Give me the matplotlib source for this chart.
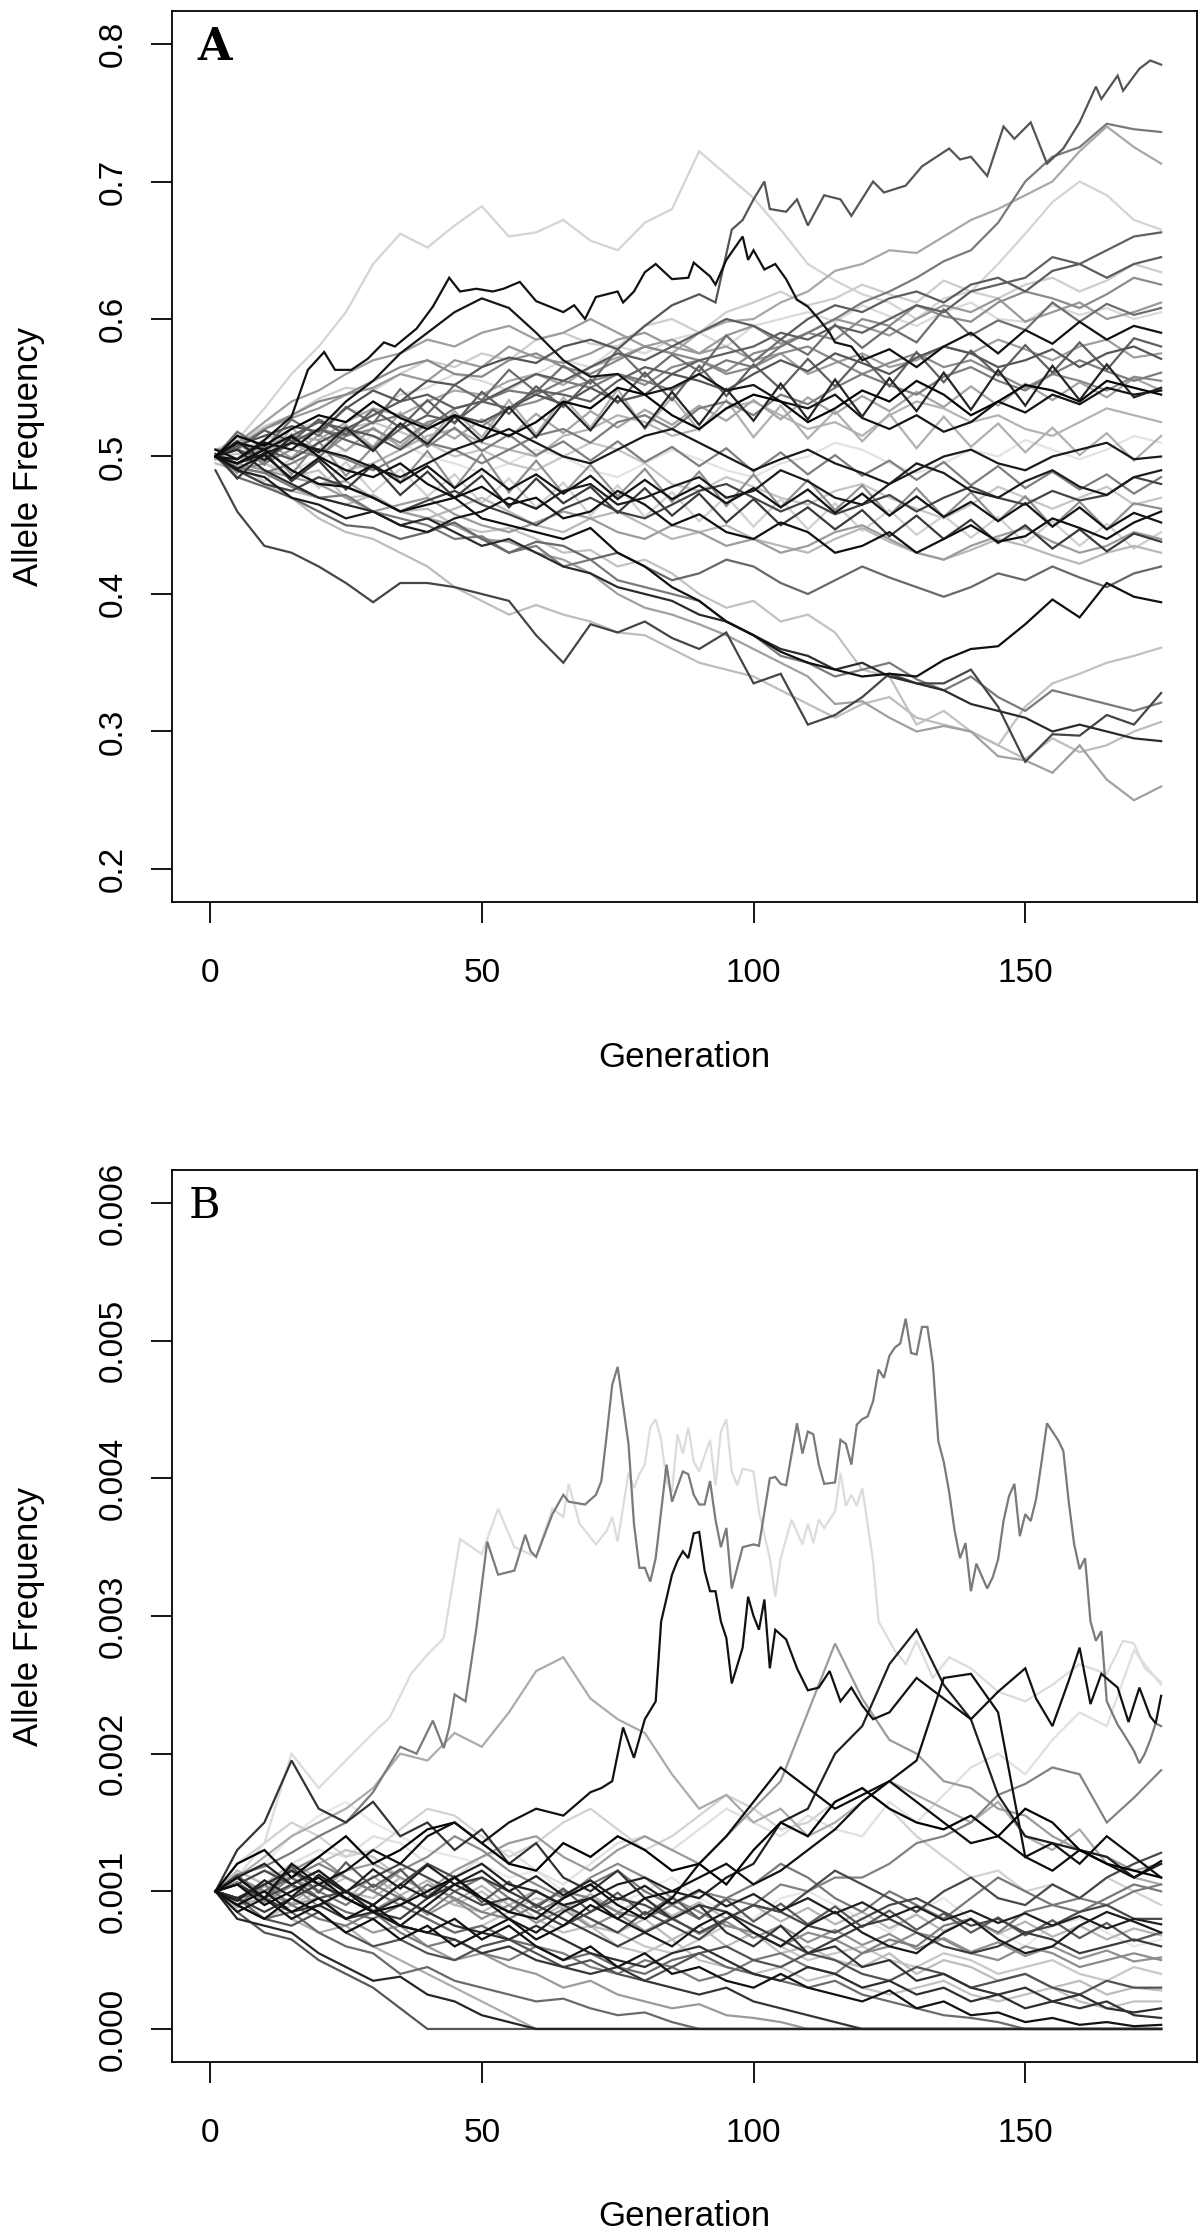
import matplotlib
matplotlib.use("Agg")
import matplotlib.pyplot as plt
import numpy as np

# ---------------- shared generation grid ----------------
GEN = [1, 5, 10, 15, 20, 25, 30, 35, 40, 45, 50, 55, 60, 65, 70, 75, 80, 85,
       90, 95, 100, 105, 110, 115, 120, 125, 130, 135, 140, 145, 150, 155,
       160, 165, 170, 175]

X_TICKS = [0, 50, 100, 150]
A_YTICKS = [0.2, 0.3, 0.4, 0.5, 0.6, 0.7, 0.8]
A_YLABELS = ["0.2", "0.3", "0.4", "0.5", "0.6", "0.7", "0.8"]
B_YTICKS = [0.000, 0.001, 0.002, 0.003, 0.004, 0.005, 0.006]
B_YLABELS = ["0.000", "0.001", "0.002", "0.003", "0.004", "0.005", "0.006"]

# ---------------- Panel A (allele frequency x 1000) ----------------
A01_GEN = [1, 5, 10, 15, 20, 25, 30, 35, 40, 45, 50, 55, 60, 65, 70, 75, 80, 85, 90, 93,
           96, 98, 100, 102, 103, 106, 108, 110, 113, 116, 118, 122, 124, 128, 131, 136,
           138, 140, 143, 146, 148, 151, 154, 157, 160, 163, 164, 167, 168, 171, 173, 175]
A01 = [500, 508, 515, 522, 518, 535, 548, 540, 555, 552, 565, 572, 568, 580, 585, 578, 595, 610, 618, 612,
       665, 672, 687, 700, 680, 678, 687, 668, 690, 687, 675, 700, 692, 697, 711, 724,
       716, 718, 704, 740, 731, 743, 713, 724, 743, 769, 760, 777, 766, 782, 788, 785]
A02 = [505, 505, 498, 510, 520, 515, 525, 530, 522, 535, 540, 548, 545, 555, 550, 560, 555, 548, 560, 570,
       565, 580, 590, 600, 612, 620, 630, 642, 650, 670, 700, 718, 725, 742, 738, 736]
A03 = [498, 498, 508, 515, 512, 525, 535, 530, 540, 548, 545, 555, 560, 552, 565, 572, 580, 575, 590, 598,
       600, 612, 620, 635, 640, 650, 648, 660, 672, 680, 690, 700, 722, 740, 725, 713]
A04 = [505, 512, 535, 560, 580, 605, 640, 662, 652, 668, 682, 660, 663, 672, 657, 650, 670, 680, 722, 705,
       688, 665, 640, 628, 618, 612, 600, 615, 620, 640, 662, 685, 700, 690, 672, 665]
A05_GEN = [1, 5, 10, 15, 18, 21, 23, 26, 29, 32, 34, 38, 41, 44, 46, 49, 52, 54, 57, 60,
           65, 67, 69, 71, 75, 76, 78, 80, 82, 85, 88, 89, 92, 93, 95, 98, 99, 100, 102, 104,
           106, 108, 110, 112, 114, 115, 118, 120, 125, 130, 135, 140, 145, 150, 155, 160,
           165, 170, 175]
A05 = [505, 498, 512, 529, 563, 576, 563, 563, 571, 583, 580, 593, 609, 630, 620, 622, 620, 622, 627, 613,
       605, 610, 600, 616, 620, 612, 620, 634, 640, 629, 630, 641, 631, 625, 643, 660, 643, 650, 636, 640,
       629, 614, 609, 600, 590, 583, 580, 570, 578, 565, 580, 590, 575, 592, 582, 598,
       585, 595, 590]
A06 = [500, 498, 510, 505, 520, 540, 555, 575, 590, 605, 615, 608, 590, 570, 558, 560, 545, 550, 560, 548,
       552, 540, 535, 545, 528, 520, 530, 518, 525, 540, 532, 545, 538, 550, 545, 548]
A07 = [490, 460, 435, 430, 420, 408, 394, 408, 408, 405, 400, 395, 370, 350, 378, 372, 380, 368, 360, 372,
       335, 342, 305, 312, 325, 342, 335, 335, 345, 318, 278, 298, 297, 312, 305, 328]
A08 = [495, 490, 480, 470, 455, 445, 440, 430, 420, 405, 395, 385, 392, 385, 380, 372, 370, 360, 350, 345,
       340, 330, 320, 310, 320, 325, 310, 305, 300, 290, 280, 295, 285, 290, 300, 307]
A09 = [500, 495, 505, 490, 480, 482, 470, 460, 455, 450, 440, 438, 430, 425, 415, 400, 390, 385, 378, 370,
       360, 350, 340, 320, 322, 310, 300, 304, 300, 282, 279, 270, 290, 265, 250, 260]
A10 = [500, 502, 495, 485, 490, 470, 472, 460, 462, 450, 445, 448, 440, 430, 432, 420, 425, 415, 400, 390,
       395, 380, 385, 372, 345, 340, 305, 315, 300, 290, 318, 335, 342, 350, 355, 361]
A11 = [500, 505, 490, 480, 470, 465, 460, 450, 455, 445, 435, 440, 430, 420, 415, 405, 400, 395, 385, 380,
       370, 360, 355, 345, 350, 340, 335, 330, 320, 315, 310, 300, 305, 300, 295, 293]
A12 = [500, 492, 488, 478, 470, 472, 460, 455, 450, 440, 442, 430, 435, 420, 425, 410, 405, 400, 395, 380,
       370, 355, 350, 340, 345, 350, 338, 330, 340, 325, 315, 330, 325, 320, 315, 321]
A13 = [500, 495, 505, 490, 480, 478, 470, 460, 465, 470, 455, 450, 445, 440, 448, 430, 420, 405, 395, 380,
       370, 358, 350, 345, 340, 342, 340, 352, 360, 362, 378, 396, 383, 408, 398, 394]
A14 = [500, 510, 505, 515, 500, 490, 485, 495, 480, 470, 478, 465, 470, 455, 460, 475, 465, 450, 458, 445,
       440, 452, 445, 430, 435, 445, 430, 440, 450, 438, 442, 455, 448, 440, 452, 460]
A15 = [500, 490, 485, 470, 465, 455, 460, 450, 445, 455, 460, 470, 462, 475, 480, 465, 470, 478, 485, 470,
       475, 490, 482, 470, 465, 480, 495, 488, 475, 470, 482, 490, 478, 472, 485, 490]
A16 = [500, 515, 508, 520, 530, 525, 540, 528, 520, 530, 522, 515, 525, 540, 535, 550, 545, 530, 520, 535,
       545, 540, 525, 535, 548, 540, 555, 545, 530, 540, 552, 548, 540, 555, 550, 545]
A17 = [500, 505, 498, 510, 520, 512, 505, 520, 530, 525, 540, 535, 548, 545, 540, 555, 565, 560, 570, 575,
       580, 590, 585, 595, 590, 600, 610, 605, 620, 625, 630, 645, 640, 650, 660, 663]
A18 = [500, 490, 495, 505, 500, 515, 520, 510, 525, 530, 522, 535, 540, 548, 555, 560, 552, 565, 570, 562,
       575, 580, 590, 585, 600, 595, 610, 602, 598, 612, 620, 615, 608, 618, 630, 625]
A19 = [500, 508, 520, 528, 535, 545, 550, 560, 555, 570, 565, 580, 572, 568, 575, 585, 590, 580, 575, 588,
       595, 582, 590, 600, 595, 588, 600, 610, 605, 615, 598, 605, 612, 600, 605, 612]
A20 = [500, 510, 522, 530, 542, 550, 548, 560, 570, 565, 575, 570, 585, 590, 582, 580, 595, 600, 590, 605,
       612, 620, 610, 615, 625, 618, 612, 628, 620, 615, 625, 630, 620, 628, 640, 634]
A21 = [500, 505, 512, 520, 525, 535, 530, 545, 550, 560, 555, 548, 560, 570, 565, 580, 575, 585, 590, 580,
       595, 600, 605, 598, 610, 602, 595, 605, 612, 600, 598, 610, 603, 608, 600, 605]
A22 = [500, 495, 505, 498, 510, 520, 515, 505, 520, 530, 525, 535, 545, 538, 550, 540, 545, 560, 555, 548,
       560, 570, 562, 575, 568, 560, 572, 580, 575, 565, 570, 578, 565, 575, 580, 571]
A23 = [500, 492, 488, 495, 505, 498, 490, 500, 510, 505, 495, 505, 515, 520, 510, 525, 530, 520, 535, 540,
       530, 545, 538, 550, 560, 552, 545, 558, 565, 555, 548, 560, 570, 562, 555, 561]
A24 = [500, 498, 505, 510, 500, 490, 495, 505, 515, 520, 510, 505, 500, 515, 520, 530, 525, 515, 520, 535,
       540, 530, 520, 525, 515, 530, 540, 535, 525, 530, 520, 515, 525, 535, 530, 525]
A25 = [500, 505, 495, 490, 498, 505, 515, 510, 500, 495, 488, 495, 505, 500, 490, 485, 495, 505, 498, 490,
       485, 495, 500, 510, 505, 495, 488, 495, 505, 500, 512, 505, 498, 505, 515, 510]
A26 = [500, 490, 480, 475, 485, 478, 470, 460, 468, 475, 465, 458, 450, 462, 470, 460, 455, 465, 475, 480,
       470, 460, 468, 458, 465, 472, 460, 470, 478, 470, 465, 475, 468, 472, 485, 480]
A27 = [500, 495, 490, 485, 480, 470, 460, 465, 470, 458, 450, 445, 452, 460, 455, 445, 440, 450, 445, 435,
       440, 430, 435, 445, 450, 440, 430, 425, 435, 442, 448, 438, 430, 435, 445, 440]
A28 = [500, 485, 478, 470, 460, 450, 448, 440, 445, 452, 440, 430, 438, 435, 425, 430, 420, 410, 415, 425,
       420, 408, 400, 410, 420, 412, 405, 398, 405, 415, 410, 420, 412, 405, 415, 420]
A29 = [500, 508, 515, 512, 505, 520, 525, 518, 510, 500, 505, 495, 490, 500, 510, 505, 495, 480, 475, 485,
       478, 470, 465, 475, 480, 470, 462, 455, 465, 478, 470, 462, 470, 478, 465, 470]
A30 = [500, 510, 505, 515, 525, 520, 530, 540, 545, 535, 540, 550, 560, 555, 565, 575, 570, 580, 590, 600,
       595, 585, 600, 610, 605, 615, 620, 612, 625, 630, 620, 635, 640, 630, 640, 645]
A31 = [500, 505, 520, 530, 540, 545, 555, 565, 570, 560, 558, 570, 575, 565, 560, 570, 580, 575, 570, 560,
       565, 575, 580, 570, 560, 568, 575, 565, 570, 560, 550, 560, 555, 548, 558, 555]
A32 = [500, 495, 502, 510, 505, 500, 492, 485, 495, 505, 512, 520, 510, 500, 495, 505, 515, 520, 510, 500,
       490, 498, 505, 495, 488, 480, 490, 500, 505, 495, 490, 500, 505, 510, 498, 500]
A33 = [500, 510, 525, 540, 548, 560, 570, 575, 585, 580, 590, 595, 585, 590, 600, 590, 580, 585, 575, 580,
       570, 575, 560, 568, 575, 565, 570, 580, 575, 585, 578, 570, 580, 585, 572, 575]
A34 = [500, 490, 480, 475, 470, 465, 472, 460, 455, 462, 470, 460, 450, 445, 455, 460, 450, 440, 445, 450,
       440, 435, 430, 440, 448, 438, 430, 425, 432, 440, 435, 428, 422, 430, 435, 430]
A35 = [500, 518, 506, 527, 515, 536, 524, 549, 531, 552, 541, 563, 547, 566, 553, 578, 558, 574, 562, 588,
       569, 585, 574, 596, 579, 594, 583, 607, 588, 599, 592, 612, 598, 611, 603, 608]
A36 = [502, 484, 503, 482, 497, 476, 494, 472, 489, 470, 486, 463, 484, 466, 478, 459, 477, 457, 473, 452,
       469, 450, 463, 447, 461, 442, 457, 440, 454, 437, 450, 433, 447, 431, 444, 438]
A37 = [498, 516, 494, 521, 503, 523, 507, 532, 511, 533, 514, 541, 516, 543, 521, 549, 520, 543, 519, 541,
       514, 537, 513, 533, 511, 531, 506, 529, 507, 524, 503, 521, 501, 517, 497, 515]
A38 = [500, 488, 509, 487, 511, 486, 507, 481, 504, 477, 502, 474, 497, 473, 494, 471, 491, 467, 489, 464,
       487, 463, 483, 461, 479, 457, 477, 456, 474, 453, 471, 449, 467, 447, 466, 462]
A39 = [500, 511, 497, 514, 503, 521, 504, 524, 509, 529, 511, 536, 514, 539, 519, 544, 521, 547, 523, 549,
       526, 553, 527, 556, 529, 557, 533, 561, 534, 563, 537, 566, 541, 567, 543, 550]
A40 = [500, 494, 482, 499, 477, 496, 474, 491, 471, 487, 466, 484, 463, 481, 457, 479, 456, 474, 453, 471,
       449, 469, 447, 466, 446, 461, 443, 457, 441, 456, 437, 453, 435, 451, 433, 445]
A41 = [500, 506, 519, 511, 527, 516, 534, 521, 541, 524, 547, 531, 551, 536, 556, 539, 561, 541, 566, 544,
       567, 549, 571, 551, 573, 551, 576, 554, 577, 559, 581, 561, 583, 563, 586, 580]
A42 = [500, 494, 511, 499, 516, 504, 521, 507, 524, 513, 527, 514, 531, 517, 533, 521, 534, 523, 537, 526,
       541, 527, 543, 531, 544, 533, 547, 536, 551, 537, 553, 541, 554, 543, 557, 548]
A43 = [500, 491, 501, 484, 499, 483, 494, 481, 493, 477, 491, 476, 487, 473, 486, 469, 483, 469, 479, 466,
       477, 463, 476, 459, 473, 457, 471, 456, 467, 453, 466, 449, 463, 447, 459, 452]
A44 = [500, 511, 494, 516, 499, 519, 506, 524, 507, 521, 504, 516, 501, 511, 497, 511, 496, 507, 493, 506,
       489, 503, 487, 501, 486, 497, 483, 496, 479, 493, 477, 489, 476, 487, 473, 485]

A_LINES = [A04, A25, A21, A20, A29, A40, A10, A08, A34, A24, A37, A09, A03, A33, A42, A19,
           A27, A31, A38, A18, A44, A02, A12, A23, A35, A17, A28, A41, A30, A22, A26, A07,
           A01, A36, A11, A06, A39, A32, A15, A43, A14, A13, A16, A05]
A_GENS = {id(A01): A01_GEN, id(A05): A05_GEN}
A_COLORS = ["#d4d4d4", "#e3e3e3", "#dadada", "#cdcdcd", "#c6c6c6", "#d0d0d0", "#c2c2c2", "#bdbdbd",
            "#b8b8b8", "#b3b3b3", "#b0b0b0", "#a0a0a0", "#a8a8a8", "#9e9e9e", "#a5a5a5", "#999999",
            "#9c9c9c", "#8a8a8a", "#8f8f8f", "#8c8c8c", "#7f7f7f", "#7a7a7a", "#7a7a7a", "#7d7d7d",
            "#6e6e6e", "#606060", "#686868", "#5f5f5f", "#5c5c5c", "#555555", "#444444", "#454545",
            "#555555", "#3a3a3a", "#2b2b2b", "#151515", "#252525", "#1a1a1a", "#1c1c1c", "#141414",
            "#101010", "#0f0f0f", "#050505", "#111111"]

# ---------------- Panel B (allele frequency x 1e5) ----------------
B01_GEN = [1, 5, 10, 15, 20, 25, 30, 35, 38, 41, 43, 44, 45, 47, 49, 51, 53, 56, 58, 59,
           60, 63, 65, 66, 69, 71, 72, 73, 74, 75, 77, 78, 79, 80, 81, 82, 84, 85, 87, 88,
           89, 90, 91, 92, 93, 94, 95, 96, 98, 100, 101, 103, 104, 105, 106, 108, 109, 110, 111, 112,
           113, 115, 116, 117, 118, 119, 120, 121, 122, 123, 124, 125, 126, 127, 128, 129, 130, 131, 132, 133,
           134, 135, 136, 137, 138, 139, 140, 141, 143, 144, 145, 146, 147, 148, 149, 150, 151, 152, 153, 154,
           155, 156, 157, 158, 159, 160, 161, 162, 163, 164, 165, 167, 168, 170, 171, 172, 173, 174, 175]
B01 = [100, 112, 118, 128, 140, 150, 172, 205, 200, 224, 204, 219, 243, 238, 291, 354, 330, 333, 359, 347,
       343, 374, 388, 383, 381, 388, 398, 432, 468, 481, 425, 367, 335, 335, 325, 342, 410, 383, 405, 403,
       388, 381, 381, 398, 370, 350, 364, 320, 350, 352, 351, 400, 401, 396, 395, 440, 418, 434, 432, 410,
       396, 397, 428, 425, 410, 439, 443, 445, 456, 479, 473, 489, 495, 498, 516, 491, 490, 510, 510, 483,
       427, 412, 390, 362, 342, 353, 318, 338, 320, 328, 341, 369, 387, 396, 358, 374, 369, 385, 412, 440,
       434, 428, 420, 383, 352, 334, 342, 296, 282, 289, 238, 221, 215, 202, 193, 200, 210, 222, 220]
B02_GEN = [1, 5, 10, 15, 20, 25, 30, 33, 37, 40, 43, 46, 50, 53, 56, 60, 63, 65, 66, 68,
           71, 73, 74, 75, 76, 77, 78, 79, 80, 81, 82, 83, 84, 85, 86, 87, 88, 89, 90, 92,
           93, 94, 95, 96, 97, 98, 100, 101, 103, 104, 105, 107, 109, 110, 111, 112, 113, 115, 116, 117,
           118, 119, 120, 122, 123, 124, 126, 128, 130, 133, 136, 140, 145, 150, 155, 160, 165, 168, 170, 172,
           175]
B02 = [100, 110, 135, 200, 175, 195, 215, 226, 258, 272, 284, 356, 345, 378, 350, 343, 378, 372, 396, 367,
       352, 362, 372, 354, 379, 404, 393, 403, 410, 437, 443, 428, 398, 390, 432, 418, 437, 412, 405, 428,
       395, 434, 443, 405, 395, 407, 405, 376, 342, 314, 342, 370, 352, 367, 353, 370, 364, 376, 404, 380,
       388, 380, 393, 340, 296, 289, 275, 265, 282, 255, 270, 262, 245, 238, 250, 265, 258, 282, 280, 262,
       252]
B03_GEN = [1, 5, 10, 15, 20, 25, 30, 35, 40, 45, 50, 55, 60, 65, 70, 72, 74, 76, 78, 80,
           82, 83, 84, 85, 86, 87, 88, 89, 90, 91, 92, 93, 94, 95, 96, 98, 99, 100, 101, 102,
           103, 104, 106, 108, 110, 112, 114, 116, 118, 120, 122, 125, 130, 135, 140, 145, 150, 152, 155, 158,
           160, 162, 164, 167, 169, 171, 173, 174, 175]
B03 = [100, 110, 95, 120, 105, 115, 130, 120, 140, 150, 135, 150, 160, 155, 172, 175, 180, 219, 197, 225,
       238, 296, 313, 330, 340, 347, 342, 360, 361, 333, 318, 318, 296, 284, 251, 277, 314, 300, 290, 312,
       262, 290, 283, 262, 246, 248, 260, 238, 248, 235, 225, 230, 255, 240, 225, 245, 262, 240, 220, 253,
       277, 236, 258, 248, 223, 248, 227, 222, 242]
B04 = [100, 90, 80, 95, 85, 70, 80, 65, 75, 60, 70, 80, 65, 75, 90, 80, 95, 100, 110, 120,
       105, 115, 130, 145, 165, 180, 195, 255, 258, 230, 125, 135, 120, 140, 125, 110]
B05 = [100, 110, 120, 105, 115, 100, 90, 105, 95, 110, 120, 105, 100, 90, 95, 105, 110, 100, 95, 110,
       120, 150, 160, 200, 220, 265, 290, 250, 225, 170, 140, 135, 130, 125, 110, 120]
B06 = [100, 105, 95, 110, 120, 110, 100, 90, 105, 95, 85, 80, 90, 100, 95, 85, 80, 90, 100, 95,
       90, 105, 100, 110, 110, 120, 135, 140, 150, 170, 178, 190, 185, 150, 168, 188]
B07 = [100, 115, 105, 120, 130, 125, 140, 135, 120, 110, 125, 130, 115, 105, 120, 135, 140, 130, 145, 160,
       150, 140, 155, 145, 140, 165, 150, 170, 190, 200, 185, 210, 230, 220, 275, 250]
B08 = [100, 110, 125, 140, 150, 160, 175, 200, 195, 215, 205, 230, 260, 270, 240, 225, 215, 185, 160, 170,
       150, 160, 140, 150, 165, 180, 170, 160, 150, 165, 140, 130, 145, 120, 110, 105]
B09 = [100, 130, 150, 195, 160, 150, 165, 140, 150, 130, 145, 120, 135, 110, 100, 115, 95, 80, 90, 70,
       60, 75, 55, 60, 45, 50, 35, 40, 30, 25, 30, 20, 15, 20, 10, 8]
B10 = [100, 85, 70, 65, 50, 40, 30, 15, 0, 0, 0, 0, 0, 0, 0, 0, 0, 0, 0, 0,
       0, 0, 0, 0, 0, 0, 0, 0, 0, 0, 0, 0, 0, 0, 0, 0]
B11 = [100, 80, 75, 70, 55, 45, 35, 38, 25, 20, 10, 5, 0, 0, 0, 0, 0, 0, 0, 0,
       0, 0, 0, 0, 0, 0, 0, 0, 0, 0, 0, 0, 0, 0, 0, 0]
B12 = [100, 95, 80, 85, 70, 60, 55, 40, 45, 35, 30, 25, 20, 22, 15, 10, 12, 5, 0, 0,
       0, 0, 0, 0, 0, 0, 0, 0, 0, 0, 0, 0, 0, 0, 0, 0]
B13 = [100, 110, 100, 90, 95, 80, 70, 75, 60, 50, 55, 45, 40, 30, 35, 25, 20, 15, 18, 10,
       8, 5, 0, 0, 0, 0, 0, 0, 0, 0, 0, 0, 0, 0, 0, 0]
B14 = [100, 90, 100, 85, 95, 80, 90, 75, 70, 80, 65, 75, 60, 50, 60, 45, 55, 40, 45, 35,
       30, 40, 30, 25, 20, 28, 15, 20, 10, 12, 5, 8, 3, 5, 2, 3]
B15 = [100, 115, 105, 120, 110, 100, 95, 110, 100, 90, 85, 95, 80, 90, 75, 70, 80, 65, 75, 60,
       70, 55, 60, 50, 45, 55, 40, 50, 45, 35, 40, 30, 35, 25, 30, 28]
B16 = [100, 110, 95, 105, 115, 100, 90, 105, 120, 110, 95, 85, 100, 90, 80, 70, 85, 75, 65, 80,
       90, 85, 100, 115, 105, 95, 85, 100, 110, 95, 90, 105, 95, 110, 120, 128]
B17 = [100, 120, 130, 110, 125, 140, 120, 130, 145, 150, 135, 120, 115, 135, 125, 140, 130, 115, 120, 105,
       130, 150, 140, 165, 175, 160, 150, 145, 155, 140, 160, 150, 130, 120, 115, 110]
B18 = [100, 90, 105, 115, 100, 90, 105, 95, 85, 100, 110, 95, 85, 95, 105, 115, 100, 90, 80, 95,
       105, 120, 110, 95, 85, 100, 90, 80, 95, 110, 100, 90, 85, 95, 105, 100]
B19 = [100, 85, 95, 80, 90, 100, 85, 75, 90, 105, 95, 80, 70, 85, 95, 80, 70, 60, 75, 85,
       70, 60, 75, 85, 70, 60, 55, 70, 80, 65, 55, 60, 75, 85, 78, 70]
B20 = [100, 120, 135, 150, 140, 125, 130, 145, 160, 155, 140, 125, 135, 150, 160, 145, 130, 140, 155, 170,
       160, 145, 150, 165, 175, 160, 140, 125, 110, 115, 100, 105, 95, 110, 100, 90]
B21 = [100, 110, 100, 115, 125, 110, 100, 115, 125, 140, 130, 115, 105, 95, 110, 120, 110, 95, 85, 75,
       70, 60, 70, 65, 55, 60, 70, 65, 55, 50, 60, 55, 45, 50, 55, 50]
B22 = [100, 95, 85, 95, 105, 95, 85, 80, 95, 105, 110, 100, 90, 80, 70, 60, 70, 80, 90, 85,
       75, 65, 55, 65, 75, 80, 70, 60, 55, 60, 70, 65, 55, 60, 65, 60]
B23 = [100, 105, 115, 110, 120, 130, 125, 110, 100, 90, 100, 85, 80, 70, 75, 60, 55, 65, 50, 45,
       40, 45, 35, 40, 30, 25, 30, 35, 25, 20, 25, 30, 20, 15, 20, 20]
B24 = [100, 90, 80, 75, 85, 70, 60, 65, 55, 50, 60, 65, 55, 45, 50, 40, 35, 45, 55, 60,
       50, 45, 55, 50, 40, 35, 45, 40, 30, 35, 40, 30, 25, 35, 30, 30]
B25 = [100, 95, 105, 90, 80, 75, 85, 70, 60, 65, 55, 50, 60, 55, 45, 40, 50, 45, 35, 40,
       50, 55, 45, 40, 55, 65, 60, 75, 80, 70, 85, 90, 95, 90, 100, 105]
B26 = [100, 105, 90, 100, 110, 95, 85, 90, 100, 110, 95, 85, 80, 95, 105, 90, 80, 95, 120, 140,
       165, 190, 175, 160, 170, 180, 165, 150, 135, 140, 125, 115, 130, 120, 110, 122]
B27 = [100, 90, 95, 80, 70, 75, 60, 50, 40, 30, 20, 10, 0, 0, 0, 0, 0, 0, 0, 0,
       0, 0, 0, 0, 0, 0, 0, 0, 0, 0, 0, 0, 0, 0, 0, 0]
B28 = [100, 105, 95, 85, 90, 80, 85, 75, 70, 65, 55, 60, 50, 45, 40, 45, 35, 30, 25, 30,
       20, 15, 10, 5, 0, 0, 0, 0, 0, 0, 0, 0, 0, 0, 0, 0]
B29 = [100, 95, 100, 110, 95, 85, 80, 90, 80, 70, 75, 65, 60, 50, 55, 45, 40, 50, 55, 45,
       40, 35, 30, 35, 25, 20, 15, 10, 8, 5, 0, 0, 0, 0, 0, 0]
B30 = [100, 110, 120, 140, 155, 165, 150, 140, 130, 125, 120, 110, 115, 100, 95, 90, 100, 110, 95, 85,
       80, 95, 100, 90, 80, 70, 85, 95, 80, 70, 60, 75, 80, 70, 60, 65]
B31 = [100, 95, 105, 110, 100, 115, 120, 110, 100, 115, 125, 135, 140, 125, 115, 130, 140, 130, 120, 140,
       160, 180, 230, 280, 240, 210, 200, 180, 175, 160, 155, 140, 130, 125, 115, 120]
B32 = [100, 105, 115, 105, 95, 100, 110, 120, 110, 100, 90, 95, 85, 75, 85, 95, 90, 80, 70, 80,
       90, 85, 75, 70, 80, 90, 95, 85, 75, 80, 70, 75, 85, 90, 80, 80]
B33 = [100, 90, 80, 90, 100, 110, 100, 90, 80, 70, 75, 85, 95, 90, 80, 70, 60, 55, 65, 75,
       70, 60, 50, 55, 60, 50, 45, 55, 50, 40, 45, 50, 40, 35, 45, 40]
B34 = [100, 95, 105, 115, 105, 95, 85, 95, 85, 75, 70, 65, 75, 65, 55, 50, 45, 55, 60, 50,
       40, 35, 45, 40, 30, 35, 25, 30, 20, 25, 15, 20, 25, 15, 12, 15]
B35 = [100, 112, 94, 118, 99, 121, 103, 116, 96, 111, 92, 107, 88, 102, 85, 99, 83, 96, 80, 94,
       78, 91, 76, 89, 74, 86, 72, 84, 70, 81, 68, 79, 66, 77, 64, 70]
B36 = [100, 88, 104, 91, 107, 94, 111, 97, 108, 93, 104, 90, 101, 87, 98, 85, 95, 82, 92, 80,
       90, 78, 88, 76, 85, 73, 83, 71, 80, 69, 78, 67, 75, 65, 73, 68]
B37 = [100, 93, 108, 96, 112, 99, 116, 102, 119, 105, 115, 100, 111, 97, 108, 94, 104, 91, 101, 89,
       98, 86, 95, 84, 92, 81, 89, 79, 86, 77, 84, 75, 82, 73, 80, 76]
B38 = [100, 107, 92, 104, 89, 100, 86, 97, 83, 94, 80, 90, 77, 87, 74, 84, 71, 81, 69, 78,
       66, 75, 63, 72, 61, 69, 58, 66, 56, 63, 53, 60, 51, 57, 49, 52]

B_LINES = [B30, B07, B20, B02, B33, B36, B23, B15, B08, B27, B31, B38, B13, B21, B25, B18,
           B06, B12, B29, B01, B35, B10, B24, B32, B16, B22, B28, B09, B34, B11, B37, B19,
           B05, B04, B14, B26, B17, B03]
B_GENS = {id(B01): B01_GEN, id(B02): B02_GEN, id(B03): B03_GEN}
B_COLORS = ["#e8e8e8", "#e0e0e0", "#d2d2d2", "#dcdcdc", "#c8c8c8", "#b5b5b5", "#c2c2c2", "#bcbcbc",
            "#ababab", "#adadad", "#9b9b9b", "#919191", "#9a9a9a", "#8c8c8c", "#7c7c7c", "#787878",
            "#828282", "#6a6a6a", "#6c6c6c", "#7a7a7a", "#5a5a5a", "#575757", "#525252", "#474747",
            "#484848", "#3c3c3c", "#353535", "#333333", "#2e2e2e", "#262626", "#1f1f1f", "#1a1a1a",
            "#202020", "#101010", "#121212", "#0d0d0d", "#000000", "#111111"]

# ---------------- figure ----------------
SANS = ["Liberation Sans", "DejaVu Sans"]
plt.rcParams["font.family"] = SANS

W, H = 1200, 2235
fig = plt.figure(figsize=(W / 100, H / 100), dpi=100)


def box(l, t, r, b):
    return [l / W, 1 - b / H, (r - l) / W, (b - t) / H]


axA = fig.add_axes(box(172, 11, 1197, 902))
axB = fig.add_axes(box(172, 1170, 1197, 2062))

LW = 1.6
for vals, col in zip(A_LINES, A_COLORS):
    g = A_GENS.get(id(vals), GEN)
    n = min(len(g), len(vals))
    axA.plot(g[:n], np.array(vals[:n]) / 1000.0, color=col, lw=LW,
             solid_joinstyle="miter")

for vals, col in zip(B_LINES, B_COLORS):
    g = B_GENS.get(id(vals), GEN)
    n = min(len(g), len(vals))
    axB.plot(g[:n], np.array(vals[:n]) / 1.0e5, color=col, lw=LW,
             solid_joinstyle="miter")

axA.set_ylim(0.176, 0.824)
axB.set_ylim(-0.00024, 0.00624)
axA.set_yticks(A_YTICKS)
axA.set_yticklabels(A_YLABELS)
axB.set_yticks(B_YTICKS)
axB.set_yticklabels(B_YLABELS)

for ax in (axA, axB):
    ax.set_xlim(-7, 181.6)
    ax.set_xticks(X_TICKS)
    ax.set_xticklabels([str(v) for v in X_TICKS])
    for sp in ax.spines.values():
        sp.set_linewidth(1.3)
        sp.set_color("black")
    ax.tick_params(axis="both", direction="out", length=15, width=1.3,
                   labelsize=24, colors="black")
    ax.tick_params(axis="x", pad=25)
    ax.tick_params(axis="y", pad=16)
    for lab in ax.get_yticklabels():
        lab.set_rotation(90)
        lab.set_va("center")
        lab.set_ha("right")

# axis titles
fig.text(684 / W, 1 - 1057 / H, "Generation", ha="center", va="center", fontsize=25)
fig.text(684 / W, 1 - 2217 / H, "Generation", ha="center", va="center", fontsize=25)
fig.text(29 / W, 1 - 456 / H, "Allele Frequency", rotation=90, ha="center", va="center", fontsize=25)
fig.text(29 / W, 1 - 1616 / H, "Allele Frequency", rotation=90, ha="center", va="center", fontsize=25)

# panel letters
fig.text(197 / W, 1 - 60 / H, "A", ha="left", va="baseline", fontsize=32,
         family=["DejaVu Serif"], weight="bold")
fig.text(189 / W, 1 - 1218 / H, "B", ha="left", va="baseline", fontsize=31,
         family=["DejaVu Serif"])

fig.savefig("out.png", dpi=100)
